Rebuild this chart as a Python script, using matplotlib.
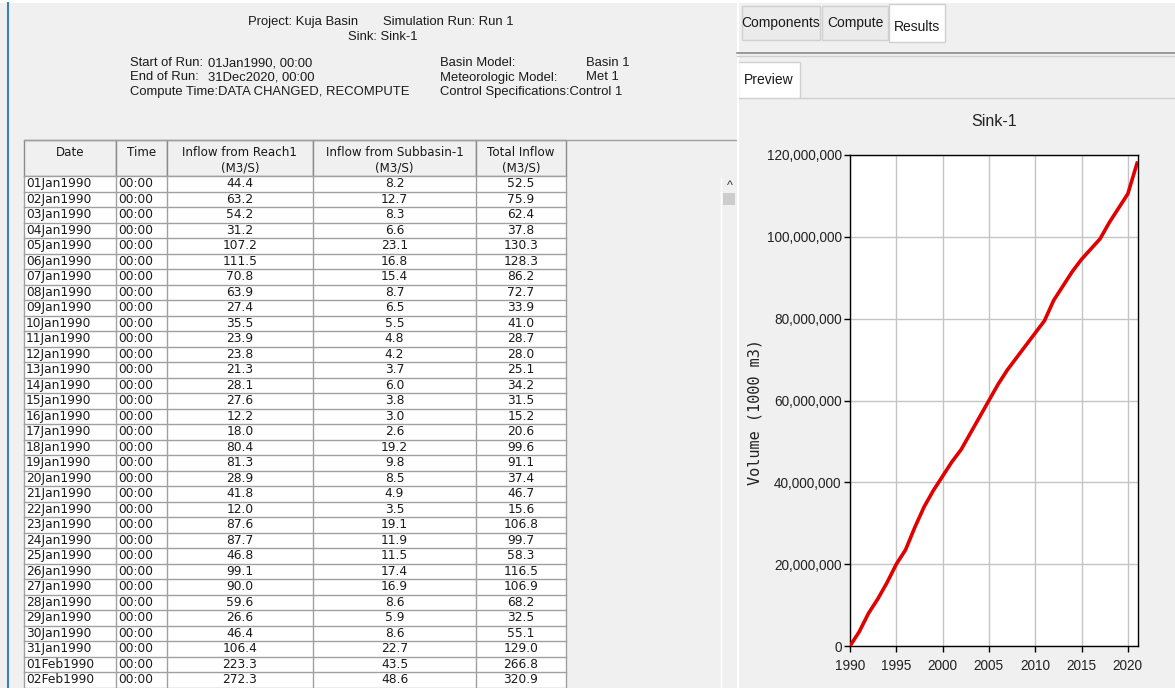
import matplotlib
matplotlib.use("Agg")
import matplotlib.pyplot as plt
from matplotlib.patches import Rectangle
from matplotlib.ticker import FuncFormatter, MultipleLocator

# ---------------- data ----------------
dates = ["01Jan1990", "02Jan1990", "03Jan1990", "04Jan1990", "05Jan1990", "06Jan1990",
         "07Jan1990", "08Jan1990", "09Jan1990", "10Jan1990", "11Jan1990", "12Jan1990",
         "13Jan1990", "14Jan1990", "15Jan1990", "16Jan1990", "17Jan1990", "18Jan1990",
         "19Jan1990", "20Jan1990", "21Jan1990", "22Jan1990", "23Jan1990", "24Jan1990",
         "25Jan1990", "26Jan1990", "27Jan1990", "28Jan1990", "29Jan1990", "30Jan1990",
         "31Jan1990", "01Feb1990", "02Feb1990"]
times = ["00:00"] * len(dates)
inflow_reach = [44.4, 63.2, 54.2, 31.2, 107.2, 111.5, 70.8, 63.9, 27.4, 35.5, 23.9, 23.8,
                21.3, 28.1, 27.6, 12.2, 18.0, 80.4, 81.3, 28.9, 41.8, 12.0, 87.6, 87.7,
                46.8, 99.1, 90.0, 59.6, 26.6, 46.4, 106.4, 223.3, 272.3]
inflow_subbasin = [8.2, 12.7, 8.3, 6.6, 23.1, 16.8, 15.4, 8.7, 6.5, 5.5, 4.8, 4.2,
                   3.7, 6.0, 3.8, 3.0, 2.6, 19.2, 9.8, 8.5, 4.9, 3.5, 19.1, 11.9,
                   11.5, 17.4, 16.9, 8.6, 5.9, 8.6, 22.7, 43.5, 48.6]
total_inflow = [52.5, 75.9, 62.4, 37.8, 130.3, 128.3, 86.2, 72.7, 33.9, 41.0, 28.7, 28.0,
                25.1, 34.2, 31.5, 15.2, 20.6, 99.6, 91.1, 37.4, 46.7, 15.6, 106.8, 99.7,
                58.3, 116.5, 106.9, 68.2, 32.5, 55.1, 129.0, 266.8, 320.9]

col_headers = [("Date", ""), ("Time", ""), ("Inflow from Reach1", "(M3/S)"),
               ("Inflow from Subbasin-1", "(M3/S)"), ("Total Inflow", "(M3/S)")]

# cumulative volume (1000 m3)
vol_years = [1990, 1991, 1992, 1993, 1994, 1995, 1996, 1997, 1998, 1999, 2000,
             2001, 2002, 2003, 2004, 2005, 2006, 2007, 2008, 2009, 2010,
             2011, 2012, 2013, 2014, 2015, 2016, 2017, 2018, 2019, 2020, 2020.4, 2021]
vol_values = [0, 3.5e6, 8.0e6, 11.5e6, 15.5e6, 20.0e6, 23.5e6, 29.0e6, 34.0e6, 38.0e6, 41.5e6,
              45.0e6, 48.0e6, 52.0e6, 56.0e6, 60.0e6, 64.0e6, 67.5e6, 70.5e6, 73.5e6, 76.5e6,
              79.5e6, 84.5e6, 88.0e6, 91.5e6, 94.5e6, 97.0e6, 99.5e6, 103.5e6, 107.0e6, 110.5e6,
              113.5e6, 118.0e6]

# ---------------- figure ----------------
W, H = 1175, 688
BG = "#f0f0f0"
fig = plt.figure(figsize=(W / 100, H / 100), dpi=100, facecolor=BG)
bg = fig.add_axes([0, 0, 1, 1])
bg.set_xlim(0, W)
bg.set_ylim(H, 0)
bg.axis("off")

UI = ["Liberation Sans", "DejaVu Sans"]
TBL = ["DejaVu Sans"]
TXT = "#1a1a1a"

# left border line and top strip
bg.add_patch(Rectangle((0, 0), W, 3, facecolor="white", edgecolor="none"))
bg.plot([7.5, 7.5], [3, H], color="#3d80b8", lw=1.5)

# run header text
HF = 9.4
bg.text(248, 22, "Project: Kuja Basin", ha="left", va="center",
        fontsize=HF, family=UI, color=TXT)
bg.text(383, 22, "Simulation Run: Run 1", ha="left", va="center",
        fontsize=HF, family=UI, color=TXT)
bg.text(383, 37, "Sink: Sink-1", ha="center", va="center", fontsize=HF, family=UI, color=TXT)
left_lbl = [("Start of Run:", "01Jan1990, 00:00"), ("End of Run:", "31Dec2020, 00:00"),
            ("Compute Time:DATA CHANGED, RECOMPUTE", "")]
right_lbl = [("Basin Model:", "Basin 1"), ("Meteorologic Model:", "Met 1"),
             ("Control Specifications:Control 1", "")]
for i, (a, b) in enumerate(left_lbl):
    y = 63 + i * 14.5
    bg.text(130, y, a, ha="left", va="center", fontsize=HF, family=UI, color=TXT)
    if b:
        bg.text(208, y, b, ha="left", va="center", fontsize=HF, family=UI, color=TXT)
for i, (a, b) in enumerate(right_lbl):
    y = 63 + i * 14.5
    bg.text(440, y, a, ha="left", va="center", fontsize=HF, family=UI, color=TXT)
    if b:
        bg.text(586, y, b, ha="left", va="center", fontsize=HF, family=UI, color=TXT)

# ---------------- table ----------------
col_edges = [24, 116, 167, 313, 476, 566]
hdr_top, hdr_bot = 140, 176
row_h = 15.5
grid_c = "#a0a0a0"
DF = 8.8

bg.plot([col_edges[0], 736], [hdr_top, hdr_top], color=grid_c, lw=1)
for j, (l1, l2) in enumerate(col_headers):
    x0, x1 = col_edges[j], col_edges[j + 1]
    bg.add_patch(Rectangle((x0, hdr_top), x1 - x0, hdr_bot - hdr_top, facecolor=BG,
                           edgecolor="#8a8a8a", lw=1))
    xc = (x0 + x1) / 2
    bg.text(xc, 153, l1, ha="center", va="center", fontsize=8.6, family=TBL, color=TXT)
    if l2:
        bg.text(xc, 168, l2, ha="center", va="center", fontsize=8.6, family=TBL, color=TXT)

n = len(dates)
bot = hdr_bot + n * row_h
bg.add_patch(Rectangle((col_edges[0], hdr_bot), col_edges[-1] - col_edges[0], bot - hdr_bot,
                       facecolor="white", edgecolor="none"))
for i in range(n + 1):
    y = hdr_bot + i * row_h
    bg.plot([col_edges[0], col_edges[-1]], [y, y], color=grid_c, lw=1)
for x in col_edges:
    bg.plot([x, x], [hdr_bot, bot], color=grid_c, lw=1)

for i in range(n):
    yc = hdr_bot + (i + 0.5) * row_h
    bg.text(col_edges[0] + 2, yc, dates[i], ha="left", va="center", fontsize=DF,
            family=TBL, color=TXT)
    bg.text(col_edges[1] + 2, yc, times[i], ha="left", va="center", fontsize=DF,
            family=TBL, color=TXT)
    for j, vals in enumerate([inflow_reach, inflow_subbasin, total_inflow]):
        xc = (col_edges[j + 2] + col_edges[j + 3]) / 2
        bg.text(xc, yc, f"{vals[i]:.1f}", ha="center", va="center", fontsize=DF,
                family=TBL, color=TXT)

# scrollbar bits
bg.plot([720.5, 720.5], [178, H], color="white", lw=1)
bg.text(730, 186, "^", ha="center", va="center", fontsize=9, family=UI, color="#333333")
bg.add_patch(Rectangle((723, 193), 12, 12, facecolor="#cdcdcd", edgecolor="none"))

# ---------------- right panel UI ----------------
bg.plot([737.5, 737.5], [0, H], color="white", lw=1.5)
tabs = [("Components", 742, 820), ("Compute", 822, 888), ("Results", 889, 945)]
for name, x0, x1 in tabs:
    sel = name == "Results"
    bg.add_patch(Rectangle((x0, 6 if not sel else 4), x1 - x0, 34 if not sel else 38,
                           facecolor="white" if sel else "#ebebeb",
                           edgecolor="#d0d0d0", lw=1))
    bg.text((x0 + x1) / 2, 23 if not sel else 27, name, ha="center", va="center",
            fontsize=10, family=UI, color=TXT)
bg.plot([737, W], [53, 53], color="#8a8a8a", lw=1.2)
bg.plot([737, W], [55.5, 55.5], color="#d0d0d0", lw=1)
bg.add_patch(Rectangle((738, 62), 62, 36, facecolor="white", edgecolor="#d0d0d0", lw=1))
bg.text(769, 80, "Preview", ha="center", va="center", fontsize=10, family=UI, color=TXT)
bg.plot([800, W], [97.5, 97.5], color="#d0d0d0", lw=1)

bg.text(994, 122, "Sink-1", ha="center", va="center", fontsize=11.5, family=UI, color="#222222")

# ---------------- chart ----------------
px0, px1, py0, py1 = 850, 1138, 155, 646
ax = fig.add_axes([px0 / W, (H - py1) / H, (px1 - px0) / W, (py1 - py0) / H])
ax.set_facecolor("white")
ax.plot(vol_years, vol_values, color="#e00000", lw=2.6, solid_joinstyle="round", zorder=3)
ax.set_xlim(1990, 2021.1)
ax.set_ylim(0, 120e6)
ax.xaxis.set_major_locator(MultipleLocator(5))
ax.yaxis.set_major_locator(MultipleLocator(20e6))
ax.yaxis.set_major_formatter(FuncFormatter(lambda v, p: f"{int(v):,}"))
ax.grid(True, color="#c4c4c4", lw=1)
ax.set_axisbelow(True)
for s in ax.spines.values():
    s.set_color("black")
    s.set_linewidth(1)
ax.tick_params(direction="out", length=4, width=1, colors="black", labelsize=9.8, pad=2)
ax.tick_params(axis="x", pad=5)
for lab in ax.get_xticklabels() + ax.get_yticklabels():
    lab.set_family(UI)
    lab.set_color("#222222")
ax.set_ylabel("Volume (1000 m3)", family=["DejaVu Sans Mono"], fontsize=11, color="#222222")
ax.yaxis.set_label_coords((762 - px0) / (px1 - px0), (py1 - 412) / (py1 - py0))

fig.savefig("out.png", dpi=100, facecolor=BG)
